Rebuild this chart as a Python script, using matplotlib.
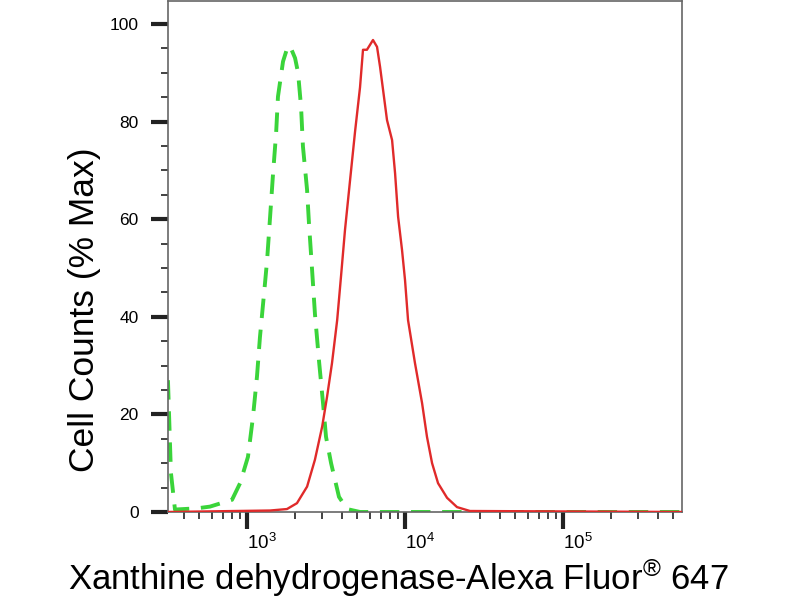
import numpy as np
import matplotlib
matplotlib.use("Agg")
import matplotlib.pyplot as plt
from matplotlib.ticker import LogLocator, MultipleLocator, NullFormatter

# red: stained sample, green dashed: isotype control
red_x = [316, 1400, 1790, 2070, 2400, 2690, 2990, 3210, 3450, 3720, 3940,
         4170, 4490, 4830, 5190, 5420, 5740, 6000, 6270, 6650, 6950, 7260,
         7690, 8280, 8650, 9040, 9570, 10000, 10450, 11560, 12820, 13770,
         14830, 16180, 18450, 21330, 25760, 566000]
red_y = [0, 0.3, 0.6, 1.8, 5.2, 10.7, 17.5, 23.6, 30.5, 39.3, 48.5,
         57.8, 68, 78, 87, 94.7, 94.7, 95.7, 96.7, 95.3, 91.2, 86.5,
         80.3, 76.2, 69.4, 60.5, 53.7, 47.5, 39.3, 30.5, 22.3, 15.4,
         10, 5.9, 2.9, 1.0, 0.2, 0]

green_x = [316, 330, 350, 483, 583, 804, 904, 1014, 1091, 1156, 1208, 1300,
           1340, 1400, 1462, 1528, 1570, 1690, 1815, 1897, 2014, 2104, 2198,
           2259, 2399, 2466, 2576, 2692, 2858, 3027, 3162, 3404, 3819, 4295,
           5188, 566000]
green_y = [27, 8, 0.5, 0.75, 1.1, 2.5, 5.9, 11.3, 19.5, 27.7, 35.9, 46.9,
           51.6, 60.5, 69.4, 77.6, 85.1, 92.3, 95.5, 95, 93, 90, 83,
           74.9, 66, 59.2, 50, 40.5, 30.8, 22.3, 15.4, 10, 3.1, 0.6,
           0, 0]

x_ticks = [1e3, 1e4, 1e5]
x_tick_labels = ["$10^{3}$", "$10^{4}$", "$10^{5}$"]
y_ticks = [0, 20, 40, 60, 80, 100]

plt.rcParams["font.family"] = ["Liberation Sans", "DejaVu Sans"]
plt.rcParams["mathtext.fontset"] = "custom"
plt.rcParams["mathtext.rm"] = "Liberation Sans"
plt.rcParams["mathtext.it"] = "Liberation Sans:italic"
plt.rcParams["mathtext.bf"] = "Liberation Sans:bold"

fig = plt.figure(figsize=(8, 6), dpi=100)
ax = fig.add_axes([0.21, 0.1467, 0.6425, 0.8517])

ax.plot(green_x, green_y, color="#3ad43a", lw=2.8, dashes=(5, 3),
        zorder=2)
ax.plot(red_x, red_y, color="#e02a2a", lw=1.7, zorder=3)

ax.set_xscale("log")
ax.set_xlim(316.2, 566000)
ax.set_ylim(0, 104.7)

ax.set_xticks(x_ticks)
ax.set_xticklabels(x_tick_labels, ha="left", fontsize=13.5)
ax.xaxis.set_minor_locator(LogLocator(base=10, subs=np.arange(2, 10)))
ax.xaxis.set_minor_formatter(NullFormatter())

ax.set_yticks(y_ticks)
ax.set_yticklabels([str(v) for v in y_ticks], fontsize=12.5)
ax.yaxis.set_minor_locator(MultipleLocator(5))

ax.tick_params(which="major", direction="out", length=12, width=3,
               color="#222222")
ax.tick_params(which="minor", direction="out", length=5, width=1.2,
               color="#222222")
ax.tick_params(axis="x", which="major", pad=3)
ax.tick_params(axis="y", which="major", pad=9)
ax.tick_params(top=False, right=False)

for side in ax.spines.values():
    side.set_color("#666666")
    side.set_linewidth(1.2)

fig.text(398.5 / 800, 10 / 600,
         "Xanthine dehydrogenase-Alexa Fluor$^{\\mathrm{®}}$ 647",
         ha="center", va="baseline", fontsize=25)
fig.text(85 / 800, 290 / 600, "Cell Counts (% Max)", rotation=90,
         ha="center", va="center", fontsize=25.5)

fig.savefig("out.png", dpi=100)
